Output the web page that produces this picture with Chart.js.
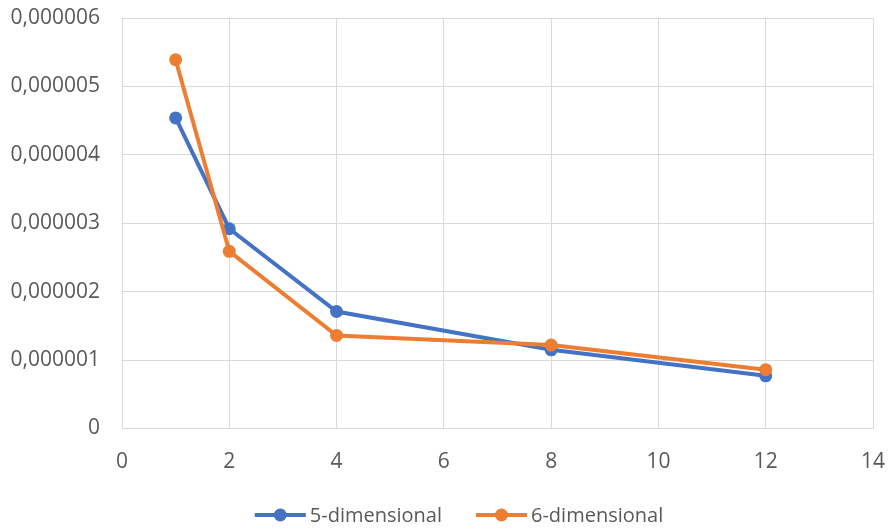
<!DOCTYPE html>
<html>
<head>
<meta charset="utf-8">
<script src="https://cdn.jsdelivr.net/npm/chart.js@4/dist/chart.umd.min.js"></script>
<style>
  html, body { margin: 0; padding: 0; background: #fff; }
  #wrap { width: 890px; height: 529px; }
</style>
</head>
<body>
<div id="wrap"><canvas id="c" width="890" height="529"></canvas></div>
<script>
// Number of processes and the measured values for each dimension
const xValues = [1, 2, 4, 8, 12];
const dim5 = [0.00000454, 0.00000292, 0.00000171, 0.00000115, 0.00000077];
const dim6 = [0.00000539, 0.00000259, 0.00000136, 0.00000122, 0.00000086];
const seriesNames = ['5-dimensional', '6-dimensional'];
const seriesColors = ['#4472C4', '#ED7D31'];

const FONT = '"Open Sans", "Liberation Sans", sans-serif';
const TEXT = '#595959';
const GRID = '#d9d9d9';

const toPoints = (ys) => xValues.map((x, i) => ({ x: x, y: ys[i] }));

// Legend drawn below the plot: line with a marker, then the series name
const bottomLegend = {
  id: 'bottomLegend',
  afterDraw(chart) {
    const ctx = chart.ctx;
    ctx.save();
    ctx.font = '20px ' + FONT;
    ctx.textBaseline = 'middle';
    const y = 515;
    const lineW = 51, gap = 4, itemGap = 34;
    const widths = seriesNames.map(n => lineW + gap + ctx.measureText(n).width);
    const total = widths.reduce((a, b) => a + b, 0) + itemGap * (widths.length - 1);
    let x = (chart.width - total) / 2 + 14;
    seriesNames.forEach((name, i) => {
      ctx.strokeStyle = seriesColors[i];
      ctx.lineWidth = 4;
      ctx.beginPath();
      ctx.moveTo(x, y);
      ctx.lineTo(x + lineW, y);
      ctx.stroke();
      ctx.fillStyle = seriesColors[i];
      ctx.beginPath();
      ctx.arc(x + lineW / 2, y, 6.5, 0, Math.PI * 2);
      ctx.fill();
      ctx.fillStyle = TEXT;
      ctx.textAlign = 'left';
      ctx.fillText(name, x + lineW + gap, y + 1);
      x += widths[i] + itemGap;
    });
    ctx.restore();
  }
};

new Chart(document.getElementById('c'), {
  type: 'line',
  data: {
    datasets: [
      {
        label: seriesNames[0],
        data: toPoints(dim5),
        borderColor: seriesColors[0],
        backgroundColor: seriesColors[0],
        borderWidth: 4,
        pointRadius: 6.5,
        pointHoverRadius: 6.5,
        pointBorderWidth: 0,
        tension: 0,
        order: 1
      },
      {
        label: seriesNames[1],
        data: toPoints(dim6),
        borderColor: seriesColors[1],
        backgroundColor: seriesColors[1],
        borderWidth: 4,
        pointRadius: 6.5,
        pointHoverRadius: 6.5,
        pointBorderWidth: 0,
        tension: 0,
        order: 0
      }
    ]
  },
  options: {
    responsive: false,
    animation: false,
    layout: { padding: { top: 18, right: 17, left: 0, bottom: 0 } },
    plugins: {
      legend: { display: false },
      tooltip: { enabled: false }
    },
    scales: {
      x: {
        type: 'linear',
        min: 0,
        max: 14,
        ticks: {
          stepSize: 2,
          padding: 21,
          color: TEXT,
          font: { family: FONT, size: 21 }
        },
        grid: { color: GRID, lineWidth: 1, drawTicks: false },
        border: { color: GRID, width: 1 },
        afterFit(scale) {
          scale.height = 100.5;
          scale.paddingLeft = 0;
          scale.paddingRight = 0;
        }
      },
      y: {
        min: 0,
        max: 0.000006,
        ticks: {
          stepSize: 0.000001,
          padding: 22,
          color: TEXT,
          font: { family: FONT, size: 21 },
          callback: (v) => v === 0 ? '0' : v.toFixed(6).replace('.', ',')
        },
        grid: { color: GRID, lineWidth: 1, drawTicks: false },
        border: { color: GRID, width: 1 },
        afterFit(scale) {
          scale.width = 122;
          scale.paddingTop = 0;
          scale.paddingBottom = 0;
        }
      }
    }
  },
  plugins: [bottomLegend]
});
</script>
</body>
</html>
